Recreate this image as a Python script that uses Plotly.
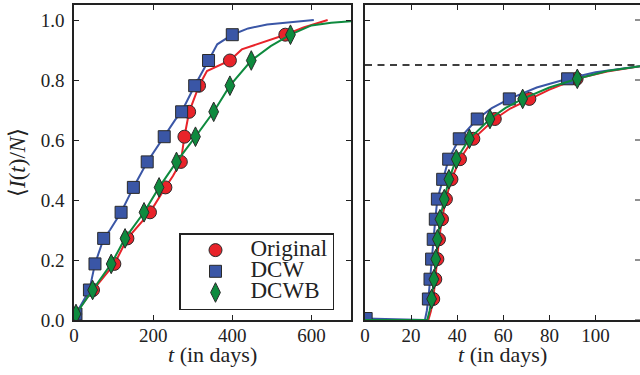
import plotly.graph_objects as go

# ---------------- data ----------------
# Left panel: marker levels and times
L_LEVELS = [0.02, 0.10, 0.187, 0.272, 0.359, 0.442, 0.527, 0.611, 0.694, 0.781, 0.865, 0.951]
L_ORIG_T = [3, 48, 102, 135, 192, 231, 270, 279, 291, 316, 394, 534]
L_DCW_T = [5, 39, 53, 75, 119, 150, 185, 228, 272, 305, 340, 400]
L_DCWB_T = [5, 47, 94, 129, 177, 215, 259, 307, 353, 394, 448, 547]

# extra points of the curves between markers (t, value)
L_ORIG_CURVE_T = [0, 250, 336, 424, 580, 641]
L_ORIG_CURVE_V = [0.015, 0.48, 0.83, 0.902, 0.975, 1.0]
L_DCW_CURVE_T = [0, 91, 256, 362, 440, 488, 606]
L_DCW_CURVE_V = [0.015, 0.30, 0.668, 0.919, 0.972, 0.985, 1.0]
L_DCWB_CURVE_T = [0, 497, 600, 650, 700]
L_DCWB_CURVE_V = [0.015, 0.913, 0.982, 0.991, 0.996]

# Right panel
R_LEVELS = [0.07, 0.136, 0.203, 0.269, 0.336, 0.403, 0.469, 0.536, 0.604, 0.670, 0.737, 0.804]
R_ORIG_T = [29.6, 30.5, 31.4, 32.1, 33.4, 35.1, 37.5, 41.2, 47.0, 56.3, 71.3, 91.8]
R_DCW_T = [27.5, 28.2, 28.9, 29.6, 30.5, 31.4, 33.7, 36.3, 40.9, 48.7, 62.6, 87.9]
R_DCWB_T = [28.9, 29.9, 30.7, 31.4, 32.5, 34.4, 36.4, 39.6, 45.3, 54.2, 68.4, 92.1]
R_DCW_START_T = [0.5]
R_DCW_START_V = [0.005]

R_ORIG_CURVE_T = [0, 27.5, 28.6, 63, 80, 105, 119.3]
R_ORIG_CURVE_V = [0.0, 0.0, 0.03, 0.705, 0.768, 0.828, 0.846]
R_DCW_CURVE_T = [0, 26, 26.8, 55, 74.5, 100, 119.3]
R_DCW_CURVE_V = [0.0, 0.0, 0.03, 0.706, 0.775, 0.826, 0.846]
R_DCWB_CURVE_T = [0, 27, 28.0, 61, 80, 105, 119.3]
R_DCWB_CURVE_V = [0.0, 0.0, 0.03, 0.707, 0.775, 0.830, 0.846]

THRESHOLD = 0.85

SERIES = ["Original", "DCW", "DCWB"]
COLORS = {"Original": "#E8232A", "DCW": "#3A56A6", "DCWB": "#0E8A3E"}
SYMBOLS = {"Original": "circle", "DCW": "square", "DCWB": "diamond-tall"}
SIZES = {"Original": 13, "DCW": 12, "DCWB": 14}

L_X_TICKS = [0, 200, 400, 600]
R_X_TICKS = [0, 20, 40, 60, 80, 100]
Y_TICKS = [0.0, 0.2, 0.4, 0.6, 0.8, 1.0]
Y_TICKTEXT = ["0.0", "0.2", "0.4", "0.6", "0.8", "1.0"]


def merged(t_marks, v_marks, t_extra, v_extra):
    pts = sorted(zip(list(t_marks) + list(t_extra), list(v_marks) + list(v_extra)))
    return [p[0] for p in pts], [p[1] for p in pts]


left = {
    "Original": (L_ORIG_T, L_LEVELS, L_ORIG_CURVE_T, L_ORIG_CURVE_V),
    "DCW": (L_DCW_T, L_LEVELS, L_DCW_CURVE_T, L_DCW_CURVE_V),
    "DCWB": (L_DCWB_T, L_LEVELS, L_DCWB_CURVE_T, L_DCWB_CURVE_V),
}
right = {
    "Original": (R_ORIG_T, R_LEVELS, R_ORIG_CURVE_T, R_ORIG_CURVE_V),
    "DCW": (R_DCW_START_T + R_DCW_T, R_DCW_START_V + R_LEVELS, R_DCW_CURVE_T, R_DCW_CURVE_V),
    "DCWB": (R_DCWB_T, R_LEVELS, R_DCWB_CURVE_T, R_DCWB_CURVE_V),
}

FONT = "Liberation Serif, DejaVu Serif, serif"
AX = "#222222"

fig = go.Figure()

# threshold dashed line (right panel)
fig.add_trace(go.Scatter(x=[0, 119.3], y=[THRESHOLD, THRESHOLD], mode="lines",
                         line=dict(color="black", width=1.3, dash="7px,5.5px"),
                         xaxis="x2", yaxis="y2", showlegend=False, hoverinfo="skip"))

for name in SERIES:
    for panel, xa, ya in ((left, "x", "y"), (right, "x2", "y2")):
        tm, vm, te, ve = panel[name]
        lt, lv = merged(tm, vm, te, ve)
        fig.add_trace(go.Scatter(x=lt, y=lv, mode="lines",
                                 line=dict(color=COLORS[name], width=2),
                                 xaxis=xa, yaxis=ya, showlegend=False, hoverinfo="skip"))
        fig.add_trace(go.Scatter(x=tm, y=vm, mode="markers",
                                 name='<span style="font-size:23px">%s</span>' % name,
                                 marker=dict(symbol=SYMBOLS[name], size=SIZES[name],
                                             color=COLORS[name],
                                             line=dict(color="#2a2a2a", width=1)),
                                 xaxis=xa, yaxis=ya, showlegend=(xa == "x")))

W, H = 640, 375
L0, L1 = 74, 351
R0 = 365
YT, YB = 5, 320

axis_common = dict(showgrid=False, zeroline=False, showline=True, linecolor=AX, linewidth=1.5,
                   ticks="inside", ticklen=5, tickwidth=1, tickcolor=AX, automargin=False,
                   tickfont=dict(family=FONT, size=19, color=AX))

fig.update_layout(
    width=W, height=H,
    margin=dict(l=0, r=0, t=0, b=0, pad=0, autoexpand=False),
    paper_bgcolor="white", plot_bgcolor="white",
    xaxis=dict(domain=[L0 / W, L1 / W], range=[0, 700], tickvals=L_X_TICKS,
               anchor="y", mirror="ticks", **axis_common),
    yaxis=dict(domain=[1 - YB / H, 1 - YT / H], range=[0, 1.05], tickvals=Y_TICKS,
               ticktext=Y_TICKTEXT, anchor="x", mirror="ticks", ticklabelstandoff=4, **axis_common),
    xaxis2=dict(domain=[R0 / W, 1.0], range=[0, 119.3], tickvals=R_X_TICKS,
                anchor="y2", mirror="ticks", **axis_common),
    yaxis2=dict(domain=[1 - YB / H, 1 - YT / H], range=[0, 1.05], tickvals=Y_TICKS,
                showticklabels=False, anchor="x2", mirror=False, **axis_common),
    legend=dict(x=179 / W, y=1 - 233 / H, xanchor="left", yanchor="top",
                bordercolor=AX, borderwidth=1.5, bgcolor="white",
                font=dict(family=FONT, size=14, color=AX), itemwidth=60,
                traceorder="normal", tracegroupgap=0),
    showlegend=True,
)

# pull x tick labels a little closer to the axis, if supported
try:
    fig.update_xaxes(ticklabelstandoff=-3)
except Exception:
    pass

# right-side inward ticks of the right panel (its right spine is outside the picture)
for v in Y_TICKS:
    fig.add_shape(type="line", xref="x2 domain", yref="y2", x0=1 - 5 / (W - R0), x1=1,
                  y0=v, y1=v, line=dict(color=AX, width=1))

# axis titles
for xc in (212.5, 502):
    fig.add_annotation(text="<i>t</i> (in days)", x=xc / W, y=1 - 354 / H, xref="paper", yref="paper",
                       xanchor="center", yanchor="middle", showarrow=False,
                       font=dict(family=FONT, size=22, color=AX))
fig.add_annotation(text="⟨<i>I</i>(<i>t</i>)/<i>N</i>⟩", x=17 / W, y=1 - 163 / H,
                   xref="paper", yref="paper", xanchor="center", yanchor="middle",
                   textangle=-90, showarrow=False,
                   font=dict(family=FONT, size=23, color=AX))

fig.write_html("out.html", config={"displayModeBar": False},
               post_script="document.body.style.margin='0px';")
